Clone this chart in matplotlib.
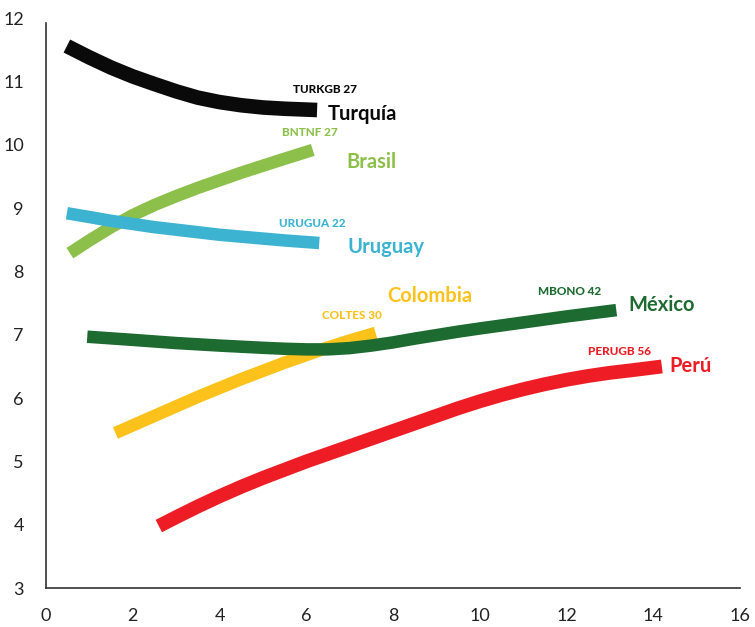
import matplotlib.pyplot as plt

plt.rcParams['font.family'] = ['Lato', 'DejaVu Sans']

# curve points per country (x, y)
tur_x = [0.48, 1.0, 1.5, 2.0, 2.5, 3.0, 3.5, 4.0, 4.5, 5.0, 5.5, 6.25]
tur_y = [11.56, 11.38, 11.22, 11.08, 10.96, 10.845, 10.745, 10.675, 10.625, 10.59, 10.57, 10.55]

bra_x = [0.55, 1.0, 1.5, 2.0, 2.5, 3.0, 3.5, 4.0, 4.5, 5.0, 5.5, 6.15]
bra_y = [8.29, 8.49, 8.7, 8.89, 9.05, 9.19, 9.32, 9.44, 9.56, 9.67, 9.78, 9.92]

uru_x = [0.48, 1.0, 1.5, 2.0, 2.5, 3.0, 3.5, 4.0, 4.5, 5.0, 5.5, 6.3]
uru_y = [8.92, 8.86, 8.8, 8.75, 8.7, 8.66, 8.62, 8.58, 8.55, 8.52, 8.49, 8.45]

col_x = [1.6, 2.0, 2.5, 3.0, 3.5, 4.0, 4.5, 5.0, 5.5, 6.0, 6.5, 7.0, 7.6]
col_y = [5.45, 5.57, 5.72, 5.87, 6.02, 6.16, 6.3, 6.43, 6.56, 6.68, 6.8, 6.91, 7.03]

mex_x = [0.95, 2.0, 3.0, 4.0, 5.0, 5.5, 6.0, 6.5, 7.0, 7.5, 8.0, 8.5, 9.0, 9.5, 10.0, 11.0, 12.0, 13.15]
mex_y = [6.97, 6.92, 6.87, 6.83, 6.795, 6.78, 6.77, 6.77, 6.79, 6.83, 6.88, 6.94, 6.995, 7.05, 7.1, 7.195, 7.29, 7.39]

per_x = [2.6, 3.0, 3.5, 4.0, 4.5, 5.0, 5.5, 6.0, 6.5, 7.0, 7.5, 8.0, 8.5, 9.0,
         9.5, 10.0, 10.5, 11.0, 11.5, 12.0, 12.5, 13.0, 13.5, 14.2]
per_y = [3.98, 4.12, 4.29, 4.45, 4.6, 4.74, 4.87, 5.0, 5.12, 5.24, 5.36, 5.48, 5.6, 5.72,
         5.84, 5.95, 6.05, 6.14, 6.22, 6.29, 6.35, 6.4, 6.44, 6.5]

series = [
    (tur_x, tur_y, '#0a0a0a', 10.5, 'TURKGB 27', (6.43, 10.87), 'Turquía', (7.3, 10.49)),
    (bra_x, bra_y, '#8dc04b', 9, 'BNTNF 27', (6.08, 10.19), 'Brasil', (7.5, 9.73)),
    (uru_x, uru_y, '#3bb3d1', 9, 'URUGUA 22', (6.13, 8.75), 'Uruguay', (7.85, 8.39)),
    (col_x, col_y, '#fcc21b', 9, 'COLTES 30', (7.05, 7.31), 'Colombia', (8.85, 7.61)),
    (mex_x, mex_y, '#1d6b30', 9, 'MBONO 42', (12.07, 7.69), 'México', (14.2, 7.47)),
    (per_x, per_y, '#ee1d25', 10, 'PERUGB 56', (13.23, 6.73), 'Perú', (14.85, 6.51)),
]

fig = plt.figure(figsize=(7.55, 6.27), dpi=100)
ax = fig.add_axes([0.061, 0.062, 0.919, 0.909])

for xs, ys, c, lw, bond, bpos, name, npos in series:
    ax.plot(xs, ys, color=c, lw=lw, solid_capstyle='butt', solid_joinstyle='round')
    ax.text(bpos[0], bpos[1], bond, color=c, fontsize=8.5, fontweight='black',
            ha='center', va='center')
    ax.text(npos[0], npos[1], name, color=c, fontsize=14.5, fontweight='bold',
            ha='center', va='center')

ax.set_xlim(0, 16)
ax.set_ylim(3, 12)
ax.set_xticks(range(0, 17, 2))
ax.set_yticks(range(3, 13))
ax.tick_params(length=0, labelsize=13, colors='#222222')
ax.tick_params(axis='x', pad=14)
ax.tick_params(axis='y', pad=16)
for s in ['top', 'right']:
    ax.spines[s].set_visible(False)
for s in ['left', 'bottom']:
    ax.spines[s].set_color('#333333')
    ax.spines[s].set_linewidth(1.2)
ax.spines['left'].set_bounds(3, 11.93)

fig.savefig('out.png', dpi=100)
